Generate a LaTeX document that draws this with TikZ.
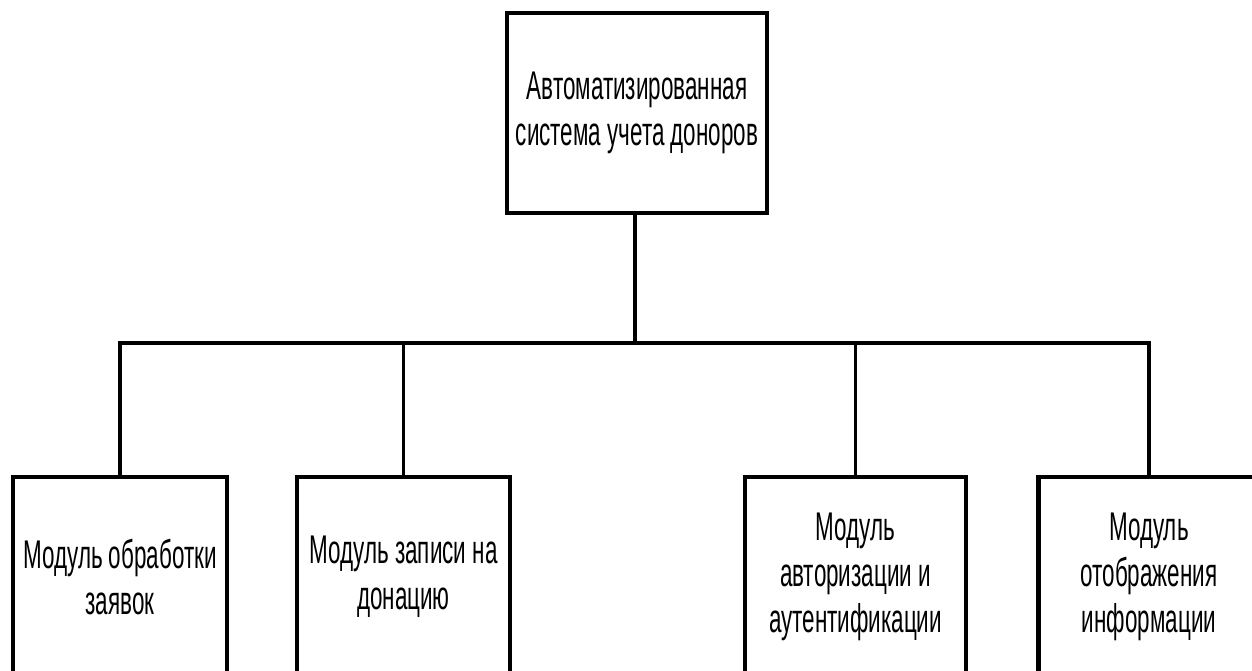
\documentclass[tikz,border=0pt]{standalone}
\usepackage{fontspec}
\setmainfont[FakeStretch=0.56]{Liberation Sans}

\tikzset{
    modbox/.style={draw, line width=2.4pt, align=center, minimum height=4cm,
        inner sep=0pt, font=\fontsize{22.8}{26.2}\selectfont},
    link/.style={line width=2.2pt}
}

\begin{document}
\begin{tikzpicture}[x=0.02cm, y=-0.02cm]
    \useasboundingbox (0,0) rectangle (1252,670);
    \clip (0,0) rectangle (1252,670);
    % system
    \node[modbox, minimum width=5.2cm] (sys) at (637,113) {Автоматизированная\\система учета доноров};
    % modules
    \node[modbox, minimum width=4.28cm] (req) at (120,577) {Модуль обработки\\заявок};
    \node[modbox, minimum width=4.26cm] (don) at (403.5,577) {Модуль записи на\\донацию};
    \node[modbox, minimum width=4.42cm] (auth) at (855.5,577) {Модуль\\авторизации и\\аутентификации};
    \node[modbox, minimum width=4.42cm] (info) at (1149,577) {Модуль\\отображения\\информации};
    % links
    \coordinate (bus) at (635,343);
    \draw[link] (sys.south -| bus) -- (bus);
    \draw[link] (req.north) |- (info.north |- bus) -- (info.north);
    \draw[link] (don.north) -- (don.north |- bus);
    \draw[link] (auth.north) -- (auth.north |- bus);
\end{tikzpicture}
\end{document}
